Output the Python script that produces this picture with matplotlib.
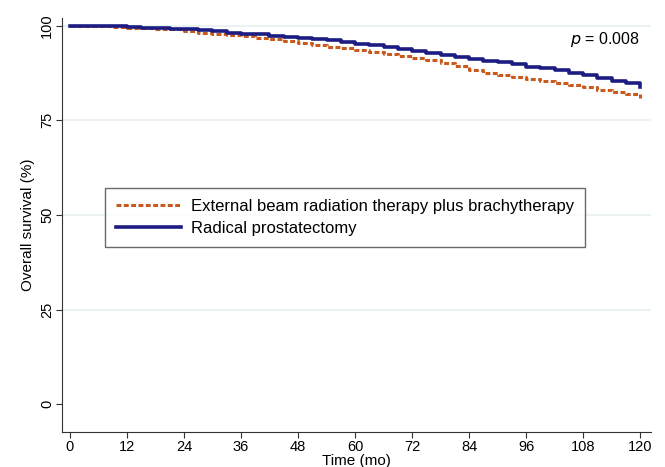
import matplotlib
matplotlib.use("Agg")
import matplotlib.pyplot as plt

plt.rcParams['font.family'] = ['Liberation Sans', 'DejaVu Sans']

# months and survival (%)
months = [0, 3, 6, 9, 12, 15, 18, 21, 24, 27, 30, 33, 36, 39, 42, 45, 48, 51, 54, 57, 60,
          63, 66, 69, 72, 75, 78, 81, 84, 87, 90, 93, 96, 99, 102, 105, 108, 111, 114, 117, 120]
ebrt_bt = [100, 99.9, 99.8, 99.6, 99.5, 99.3, 99.2, 99.0, 98.7, 98.2, 97.8, 97.5, 97.2, 96.8,
           96.4, 95.9, 95.3, 94.8, 94.4, 94.0, 93.6, 93.0, 92.4, 92.0, 91.5, 90.9, 90.2, 89.4,
           88.3, 87.6, 87.0, 86.4, 85.8, 85.3, 84.8, 84.3, 83.8, 83.1, 82.4, 81.9, 80.8]
rp = [100, 100, 99.9, 99.8, 99.6, 99.5, 99.3, 99.2, 99.0, 98.8, 98.5, 98.2, 97.9, 97.7,
      97.4, 97.1, 96.8, 96.5, 96.1, 95.6, 95.2, 94.8, 94.3, 93.8, 93.3, 92.8, 92.3, 91.8,
      91.3, 90.8, 90.3, 89.8, 89.2, 88.8, 88.2, 87.6, 86.9, 86.3, 85.5, 84.8, 83.9]

x_ticks = list(range(0, 121, 12))
y_ticks = [0, 25, 50, 75, 100]

fig = plt.figure(figsize=(6.65, 4.67), dpi=100)
ax = fig.add_axes([0.093, 0.075, 0.886, 0.887])

for y in y_ticks[1:]:
    ax.axhline(y, color='#e8f0f0', lw=1.2, zorder=0)

ax.plot(months, ebrt_bt, drawstyle='steps-post', color='#c85a1e', lw=2.2, ls=(0, (1.6, 0.8)),
        label='External beam radiation therapy plus brachytherapy')
ax.plot(months, rp, drawstyle='steps-post', color='#1c1c82', lw=2.6,
        label='Radical prostatectomy')

ax.set_xlim(-1.7, 122.3)
ax.set_ylim(-7.3, 102.1)
ax.set_xticks(x_ticks)
ax.set_yticks(y_ticks)
ax.tick_params(labelsize=10.5, length=4, pad=1.5, color='#333333')
for lbl in ax.get_yticklabels():
    lbl.set_rotation(90)
    lbl.set_va('center')
ax.spines['top'].set_visible(False)
ax.spines['right'].set_visible(False)
ax.spines['left'].set_color('#333333')
ax.spines['bottom'].set_color('#333333')

ax.set_xlabel('Time (mo)', fontsize=11, labelpad=0.5)
ax.set_ylabel('Overall survival (%)', fontsize=11, labelpad=4)

ax.text(120, 96.3, r'$p$ = 0.008', ha='right', va='center', fontsize=11.5)

leg = fig.legend(loc='upper left', bbox_to_anchor=(0.158, 0.598), fontsize=12,
                 frameon=True, fancybox=False, edgecolor='#444444', handlelength=3.9,
                 handletextpad=0.6, borderpad=0.65, labelspacing=0.45, borderaxespad=0)
leg.get_frame().set_linewidth(1.0)

fig.savefig('out.png', dpi=100)
